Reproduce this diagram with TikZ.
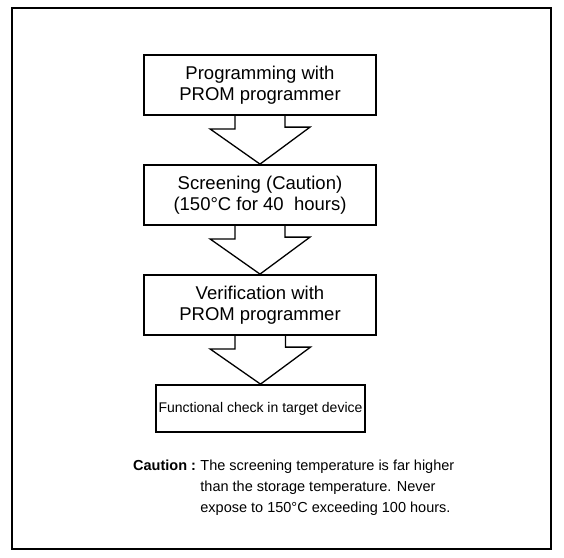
\documentclass[tikz,border=0pt]{standalone}
\usepackage{fontspec}
\setmainfont{Liberation Sans}
\begin{document}
\begin{tikzpicture}[x=1pt,y=-1pt,
  stepbox/.style={draw,line width=1.8pt,minimum width=232pt,align=center,inner sep=0pt,font=\fontsize{18.5}{20.5}\selectfont},
  flowarrow/.style={draw,line width=1.3pt,line join=miter}]
\useasboundingbox (0,0) rectangle (564,557);
\draw[line width=2pt] (12,8) rectangle (551,549);
\node[stepbox,minimum height=60pt] (b1) at (260,85) {Programming with\\PROM programmer};
\node[stepbox,minimum height=60pt] (b2) at (260,195) {Screening (Caution)\\(150°C for 40\ \ hours)};
\node[stepbox,minimum height=60pt] (b3) at (260,305) {Verification with\\PROM programmer};
\node[stepbox,minimum height=47pt,minimum width=209pt,font=\fontsize{14}{17}\selectfont] (b4) at (260.5,408.5) {Functional check in target device};
\foreach \a/\b in {b1/b2,b2/b3,b3/b4}{
  \draw[flowarrow] ([xshift=-25pt]\a.south) -- ++(0,13) -- ++(-25,0) -- (\b.north) -- ++(50,-37) -- ++(-25,0) -- ++(0,-13);
}
\node[anchor=north west,inner sep=0pt,font=\fontsize{14.5}{21}\selectfont\bfseries] (cl) at (133,460) {Caution :};
\node[anchor=north west,inner sep=0pt,align=left,font=\fontsize{14.5}{21}\selectfont] (ct) at ([xshift=4pt]cl.north east) {The screening temperature is far higher\\than the storage temperature. Never\\expose to 150°C exceeding 100 hours.};
\end{tikzpicture}
\end{document}
